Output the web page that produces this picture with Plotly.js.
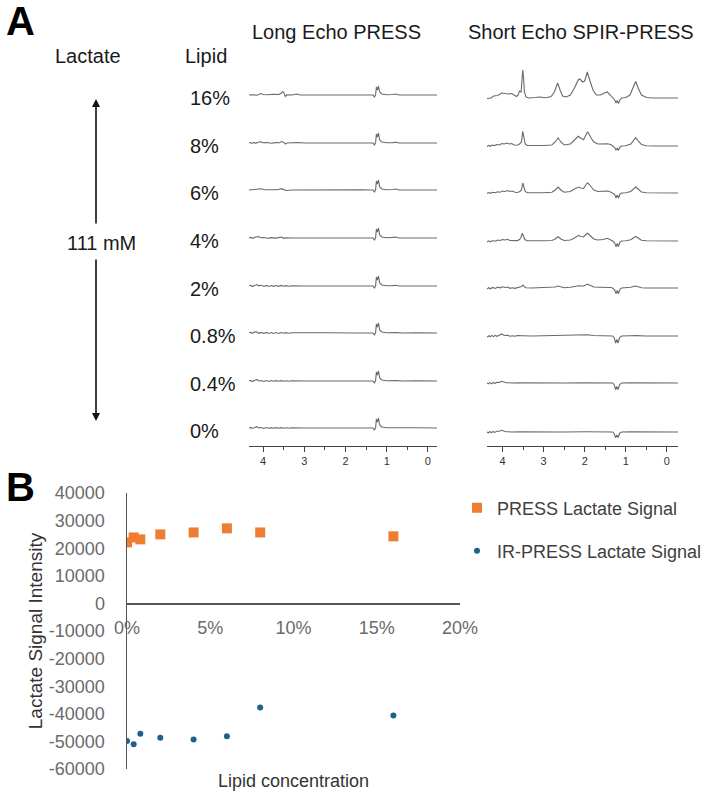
<!DOCTYPE html>
<html>
<head>
<meta charset="utf-8">
<script src="https://cdn.plot.ly/plotly-3.0.1.min.js"></script>
<style>html,body{margin:0;padding:0;background:#fff;}#chart{width:709px;height:796px;}</style>
</head>
<body>
<div id="chart"></div>
<script>
// ---------------- DATA ----------------
// Panel A: lipid concentrations (row labels, top to bottom)
const lipidLabels = ['16%', '8%', '6%', '4%', '2%', '0.8%', '0.4%', '0%'];
const ppmTicks = [4, 3, 2, 1, 0];

// Long Echo PRESS spectra: [ppm, intensity] pairs
const long16 = [[4.34,0],[4.25,0.3],[4.15,-0.2],[4.05,1.5],[4.0,0.5],[3.9,0.2],[3.75,0.8],[3.62,0.5],[3.55,2],[3.52,3.5],[3.49,2],[3.46,-1.5],[3.42,0.2],[3.3,0],[3.18,1],[3.1,0],[2.5,0],[2.0,0.2],[1.6,0],[1.4,0],[1.33,0],[1.30,-2],[1.27,0],[1.25,8],[1.225,5],[1.20,9],[1.17,3],[1.12,1],[1.0,0.3],[0.85,0.5],[0.78,1],[0.7,0],[0.4,0.3],[0.2,0],[-0.22,0]];
const long8 = [[4.34,0],[4.3,0.5],[4.26,-0.4],[4.22,0.7],[4.18,-0.3],[4.12,0.8],[4.05,1.2],[4.0,0.3],[3.9,0.5],[3.8,-0.2],[3.7,0.4],[3.6,0.2],[3.55,1.5],[3.5,0.8],[3.46,-1],[3.42,0],[3.3,0.2],[3.15,0.5],[3.0,0],[2.5,0.2],[2.0,0],[1.4,0],[1.33,0],[1.30,-2],[1.27,0],[1.25,9],[1.225,6],[1.20,10],[1.17,3],[1.12,1],[1.0,0.3],[0.85,0.4],[0.78,0.8],[0.7,0],[0.3,0.2],[-0.22,0]];
const long6 = [[4.34,0],[4.2,0.3],[4.1,0.6],[4.05,1.2],[3.95,0.3],[3.8,0.2],[3.65,0.3],[3.55,1.3],[3.48,0],[3.45,-0.5],[3.3,0],[2.8,0.2],[2.2,0],[1.6,0.2],[1.4,0],[1.33,0],[1.30,-2],[1.27,0],[1.25,9],[1.225,6],[1.20,10],[1.17,3],[1.12,1],[1.0,0.3],[0.85,0.5],[0.78,1],[0.7,0],[0.3,0.2],[-0.22,0]];
const long4 = [[4.34,0],[4.3,0.6],[4.25,-0.3],[4.2,0.8],[4.12,1.5],[4.06,0.2],[3.98,0.5],[3.9,-0.2],[3.8,0.4],[3.7,-0.1],[3.62,0.4],[3.55,1],[3.5,-0.3],[3.45,0.3],[3.3,0],[2.6,0.2],[2.0,0],[1.4,0],[1.33,0],[1.30,-2],[1.27,0],[1.25,9],[1.225,6],[1.20,10],[1.17,3],[1.12,1],[1.0,0.3],[0.85,0.6],[0.78,1],[0.7,0],[0.3,0.2],[-0.22,0]];
const long2 = [[4.34,0],[4.3,0.7],[4.26,-0.5],[4.2,0.9],[4.15,1.5],[4.1,0.2],[4.04,0.7],[3.98,-0.4],[3.92,0.6],[3.86,-0.4],[3.8,0.5],[3.74,-0.3],[3.68,0.5],[3.62,-0.3],[3.56,0.6],[3.5,-0.2],[3.44,0.4],[3.38,-0.2],[3.3,0.2],[3.0,0],[2.5,0.2],[2.0,0],[1.4,0],[1.33,0],[1.30,-2],[1.27,0],[1.25,9],[1.225,6],[1.20,10],[1.17,3],[1.12,1],[1.0,0.3],[0.85,0.4],[0.78,0.8],[0.7,0],[0.3,0.2],[-0.22,0]];
const long08 = [[4.34,0],[4.3,0.8],[4.26,-0.6],[4.22,0.9],[4.16,1.2],[4.1,-0.3],[4.04,0.6],[3.98,-0.5],[3.92,0.6],[3.86,-0.4],[3.8,0.5],[3.74,-0.4],[3.68,0.5],[3.62,-0.4],[3.56,0.5],[3.5,-0.3],[3.44,0.4],[3.38,-0.3],[3.3,0.2],[3.0,0],[2.4,0.2],[1.8,0],[1.4,0],[1.33,0],[1.30,-2],[1.27,0],[1.25,9],[1.225,6],[1.20,10],[1.17,3],[1.12,1],[1.0,0.3],[0.8,0.4],[0.6,0],[0.3,0.2],[-0.22,0]];
const long04 = [[4.34,0],[4.3,0.6],[4.26,-0.5],[4.2,0.8],[4.15,1.5],[4.1,0],[4.04,0.5],[3.98,-0.4],[3.92,0.5],[3.86,-0.4],[3.8,0.5],[3.74,-0.3],[3.68,0.4],[3.62,-0.3],[3.56,0.4],[3.5,-0.3],[3.44,0.3],[3.38,-0.2],[3.3,0.2],[3.0,0],[2.4,0.2],[1.8,0],[1.4,0],[1.33,0],[1.30,-2],[1.27,0],[1.25,9],[1.225,6],[1.20,10],[1.17,3],[1.12,1],[1.0,0.3],[0.8,0.4],[0.6,0],[0.3,0.2],[-0.22,0]];
const long0 = [[4.34,0],[4.3,0.6],[4.26,-0.4],[4.2,0.8],[4.15,1.3],[4.1,0],[4.04,0.5],[3.98,-0.4],[3.92,0.5],[3.86,-0.3],[3.8,0.4],[3.74,-0.3],[3.68,0.4],[3.62,-0.3],[3.56,0.4],[3.5,-0.2],[3.44,0.3],[3.38,-0.2],[3.3,0.2],[3.0,0],[2.4,0.2],[1.8,0],[1.4,0],[1.33,0],[1.30,-2],[1.27,0],[1.25,9],[1.225,6],[1.20,10],[1.17,3],[1.12,1],[1.0,0.3],[0.8,0.3],[0.6,0],[0.3,0.2],[-0.22,0]];

// Short Echo SPIR-PRESS spectra: [ppm, intensity] pairs
const short16 = [[4.38,-0.5],[4.28,0],[4.22,2],[4.12,2.5],[4.02,5],[3.94,4.5],[3.86,4],[3.78,4.5],[3.72,3],[3.66,1.5],[3.62,3],[3.59,7],[3.55,6],[3.53,14],[3.51,28],[3.49,20],[3.47,6],[3.43,1],[3.35,0],[3.2,0.5],[3.1,1],[2.95,0.3],[2.82,1.5],[2.74,6],[2.66,15],[2.6,8],[2.54,2],[2.45,1],[2.35,3],[2.25,10],[2.16,18],[2.12,19],[2.05,16],[2.0,17],[1.94,26],[1.88,18],[1.8,8],[1.72,3],[1.62,3],[1.52,5],[1.45,6],[1.38,3],[1.32,0],[1.27,-2],[1.24,-5],[1.21,-2.5],[1.18,-5.5],[1.14,-1.5],[1.1,0],[1.0,0.5],[0.9,3],[0.82,10],[0.76,16.5],[0.7,10],[0.62,3],[0.5,0.5],[0.35,0],[-0.27,0]];
const short8 = [[4.38,-0.5],[4.34,0.5],[4.3,-0.3],[4.26,1],[4.2,0.4],[4.14,1.5],[4.08,1],[4.02,2.5],[3.96,2],[3.9,3],[3.84,2],[3.78,2.5],[3.72,1],[3.66,0.8],[3.6,1.5],[3.57,3],[3.54,4],[3.51,14.7],[3.48,8],[3.45,2],[3.4,0.5],[3.2,0.3],[3.0,0.5],[2.8,1],[2.72,4],[2.65,8],[2.58,4],[2.5,1],[2.35,2],[2.25,6],[2.16,9.7],[2.1,8],[2.03,6.3],[1.96,12],[1.93,14.3],[1.86,9],[1.78,4],[1.68,2],[1.55,2],[1.45,2.3],[1.37,1.5],[1.32,0],[1.27,-1.5],[1.24,-4.3],[1.21,-2],[1.18,-4.3],[1.14,-1],[1.1,0],[1.0,0.3],[0.88,2],[0.8,6],[0.76,8.3],[0.7,5],[0.62,1.5],[0.5,0.3],[0.3,0],[-0.27,0]];
const short6 = [[4.38,-0.5],[4.34,0.4],[4.3,-0.3],[4.24,0.8],[4.18,0.3],[4.12,1.2],[4.06,0.8],[4.0,2],[3.94,1.5],[3.88,2.5],[3.82,1.5],[3.76,2],[3.7,0.8],[3.64,0.5],[3.58,1.5],[3.54,3],[3.51,10],[3.48,6],[3.45,1.5],[3.4,0.3],[3.2,0.2],[3.0,0.3],[2.8,0.8],[2.72,3],[2.65,6],[2.58,3],[2.5,0.8],[2.35,1.5],[2.25,4],[2.15,6],[2.1,5],[2.03,4.5],[1.96,9],[1.93,10.3],[1.86,7],[1.78,3],[1.68,1.5],[1.55,1.5],[1.45,2],[1.37,1],[1.32,0],[1.27,-1.5],[1.24,-5],[1.21,-2],[1.18,-5],[1.14,-1],[1.1,0],[1.0,0.3],[0.88,1.5],[0.8,4.5],[0.76,6],[0.7,4],[0.62,1],[0.5,0.2],[0.3,0],[-0.27,0]];
const short4 = [[4.38,-1],[4.34,0.2],[4.3,-0.8],[4.24,0.5],[4.18,-0.2],[4.12,1],[4.06,0.5],[4.0,1.5],[3.94,1],[3.88,1.7],[3.82,0.5],[3.76,0.3],[3.7,0.6],[3.64,0.4],[3.59,1.5],[3.56,3],[3.52,7.7],[3.49,5],[3.46,1.5],[3.4,0.2],[3.2,0],[3.0,0.2],[2.8,0.5],[2.72,2],[2.65,4.3],[2.58,2],[2.5,0.5],[2.35,1],[2.25,3],[2.15,5.7],[2.1,4.5],[2.03,4],[1.96,7],[1.93,7.7],[1.86,5],[1.78,2],[1.68,1],[1.55,1.5],[1.45,2.7],[1.37,1.5],[1.32,0],[1.27,-2],[1.24,-5.7],[1.21,-2.5],[1.18,-5.5],[1.14,-1],[1.1,0],[1.0,0.2],[0.88,1.2],[0.8,3.5],[0.76,4.7],[0.7,3],[0.62,0.8],[0.5,0.2],[0.3,0],[-0.27,0]];
const short2 = [[4.38,-1],[4.34,0.3],[4.3,-0.8],[4.24,0.6],[4.18,-0.5],[4.12,0.8],[4.06,0.2],[4.0,1.2],[3.94,0.5],[3.88,1],[3.82,-0.3],[3.76,0.3],[3.7,-0.4],[3.64,0.2],[3.58,0.5],[3.54,1.5],[3.51,3],[3.48,1.5],[3.44,0.3],[3.3,0],[3.0,0.2],[2.8,0.3],[2.72,1],[2.65,2],[2.58,1],[2.5,0.3],[2.35,0.8],[2.25,1.5],[2.15,2.3],[2.08,2],[2.02,2],[1.96,3.5],[1.93,3.7],[1.86,2.5],[1.78,1],[1.65,0.8],[1.5,1],[1.45,1],[1.37,0.5],[1.32,0],[1.27,-2],[1.24,-5.7],[1.21,-2.5],[1.18,-5.5],[1.14,-1],[1.1,0],[1.0,0.2],[0.88,0.8],[0.8,1.7],[0.76,2],[0.7,1.2],[0.62,0.3],[0.5,0],[-0.27,0]];
const short08 = [[4.38,0],[4.36,-1],[4.33,0.5],[4.3,-0.8],[4.26,0.6],[4.22,-0.6],[4.18,0.7],[4.14,-0.3],[4.08,0.8],[4.02,2],[3.98,1],[3.94,0.5],[3.88,0.8],[3.82,-0.2],[3.76,0.3],[3.7,-0.3],[3.64,0.5],[3.58,0.2],[3.5,0.3],[3.3,0],[3.0,0.2],[2.65,0.5],[2.4,0.3],[2.15,0.6],[1.93,1.3],[1.8,0.5],[1.6,0.3],[1.4,0.2],[1.32,0],[1.28,-2],[1.25,-7],[1.22,-3.5],[1.19,-7],[1.15,-1.5],[1.1,0],[0.9,0.2],[0.76,0.4],[0.5,0],[-0.27,0]];
const short04 = [[4.38,0],[4.35,-0.8],[4.31,0.4],[4.27,-0.7],[4.23,0.6],[4.19,-0.5],[4.14,0.8],[4.08,0.6],[4.02,1.7],[3.97,1],[3.92,0.2],[3.86,0.3],[3.78,0],[3.6,0.2],[3.3,0],[3.0,0.2],[2.5,0],[2.0,0.3],[1.6,0],[1.4,0.2],[1.32,0],[1.28,-2],[1.25,-6.7],[1.22,-3.5],[1.19,-6.5],[1.15,-1.5],[1.1,0],[0.9,0.2],[0.5,0],[-0.27,0]];
const short0 = [[4.38,0],[4.35,-0.8],[4.31,0.3],[4.27,-0.6],[4.23,0.5],[4.19,-0.4],[4.14,0.7],[4.08,0.7],[4.02,1.7],[3.97,0.8],[3.92,0.2],[3.86,0.3],[3.78,0],[3.6,0.2],[3.3,0],[3.0,0.2],[2.5,0],[2.0,0.2],[1.6,0],[1.4,0.2],[1.32,0],[1.28,-2],[1.25,-5.7],[1.22,-3],[1.19,-5.5],[1.15,-1.2],[1.1,0],[0.9,0.2],[0.5,0],[-0.27,0]];

const longSpectra = [long16, long8, long6, long4, long2, long08, long04, long0];
const shortSpectra = [short16, short8, short6, short4, short2, short08, short04, short0];

// Panel B: lactate signal vs lipid concentration
const lipidConc = [0, 0.004, 0.008, 0.02, 0.04, 0.06, 0.08, 0.16];
const pressSignal = [22100, 23900, 23200, 25000, 25700, 27200, 25700, 24300];
const irPressSignal = [-49900, -51000, -47200, -48700, -49300, -48100, -37700, -40600];
const xTickVals = [0, 0.05, 0.10, 0.15, 0.20];
const xTickText = ['0%', '5%', '10%', '15%', '20%'];
const yTickVals = [40000, 30000, 20000, 10000, 0, -10000, -20000, -30000, -40000, -50000, -60000];
const yTickText = ['40000', '30000', '20000', '10000', '0', '-10000', '-20000', '-30000', '-40000', '-50000', '-60000'];

// ---------------- LAYOUT HELPERS ----------------
const W = 709, H = 796;
const fx = p => p / W;
const fy = p => (H - p) / H;
const FONT = 'Liberation Sans, Arial, Helvetica, sans-serif';
const longRowPx = [95, 143, 190, 238, 286, 333, 381, 428];
const shortRowPx = [98, 146, 193, 241, 288, 336, 383, 432];
const rowRange = [-8, 38];

const traces = [];
const layout = {
  width: W, height: H,
  margin: {l: 0, r: 0, t: 0, b: 0},
  paper_bgcolor: '#ffffff', plot_bgcolor: 'rgba(0,0,0,0)',
  font: {family: FONT, color: '#222'},
  showlegend: true,
  annotations: [],
  shapes: []
};

const specAxis = (dom, rng) => ({
  domain: dom, range: rng, anchor: 'free', position: fy(446),
  showline: true, linecolor: '#444', linewidth: 1,
  ticks: 'outside', ticklen: 5, tickcolor: '#444', tickwidth: 1,
  tickmode: 'linear', tick0: 0, dtick: 1,
  minor: {tick0: 0, dtick: 0.5, ticks: 'outside', ticklen: 3, tickcolor: '#444', showgrid: false},
  tickfont: {size: 11, color: '#333', family: FONT},
  showgrid: false, zeroline: false, fixedrange: true
});
layout.xaxis2 = specAxis([fx(249), fx(437)], [4.34, -0.22]);
layout.xaxis3 = specAxis([fx(487), fx(678)], [4.38, -0.27]);

function addRows(spectra, rowPx, xName, yStart) {
  spectra.forEach((s, i) => {
    const yn = yStart + i;
    const r = rowPx[i];
    layout['yaxis' + yn] = {
      domain: [fy(r - rowRange[0]), fy(r - rowRange[1])],
      range: rowRange, anchor: xName, visible: false, fixedrange: true
    };
    traces.push({
      type: 'scatter', mode: 'lines',
      x: s.map(p => p[0]), y: s.map(p => p[1]),
      xaxis: xName, yaxis: 'y' + yn,
      line: {color: '#6a6a6a', width: 1.1},
      showlegend: false, hoverinfo: 'skip'
    });
  });
}
addRows(longSpectra, longRowPx, 'x2', 2);
addRows(shortSpectra, shortRowPx, 'x3', 10);

// row labels anchored to each long-echo row's baseline
lipidLabels.forEach((lab, i) => {
  layout.annotations.push({
    text: lab, xref: 'paper', yref: 'y' + (2 + i), x: fx(188), y: 0,
    xanchor: 'left', yanchor: 'middle', yshift: -3, showarrow: false,
    font: {size: 20, color: '#1a1a1a', family: FONT}
  });
});

// Panel B scatter
traces.push({
  type: 'scatter', mode: 'markers', name: 'PRESS Lactate Signal',
  x: lipidConc, y: pressSignal, xaxis: 'x', yaxis: 'y',
  marker: {symbol: 'square', size: 10, color: '#ed7d31'},
  legend: 'legend'
});
traces.push({
  type: 'scatter', mode: 'markers', name: 'IR-PRESS Lactate Signal',
  x: lipidConc, y: irPressSignal, xaxis: 'x', yaxis: 'y',
  marker: {symbol: 'circle', size: 6, color: '#1b6389'},
  legend: 'legend2'
});

layout.xaxis = {
  domain: [fx(127), fx(460)], range: [0, 0.2], anchor: 'free', position: fy(603),
  tickmode: 'array', tickvals: xTickVals, ticktext: xTickText,
  ticks: '', ticklabelstandoff: 8,
  showline: true, linecolor: '#555', linewidth: 1.5,
  showgrid: false, zeroline: false, fixedrange: true,
  tickfont: {size: 18, color: '#6b6b6b', family: FONT}
};
layout.yaxis = {
  domain: [fy(769), fy(493)], range: [-60000, 40000], anchor: 'x',
  tickmode: 'array', tickvals: yTickVals, ticktext: yTickText,
  ticks: '', ticklabelstandoff: 17,
  showline: true, linecolor: '#555', linewidth: 1.5,
  showgrid: false, zeroline: false, fixedrange: true,
  tickfont: {size: 18, color: '#6b6b6b', family: FONT},
  title: {text: 'Lactate Signal Intensity', font: {size: 19, color: '#333', family: FONT}, standoff: 1}
};

const legendBase = {
  xref: 'paper', yref: 'paper', x: fx(457), xanchor: 'left', yanchor: 'middle',
  bgcolor: 'rgba(0,0,0,0)', borderwidth: 0,
  font: {size: 18, color: '#404040', family: FONT}
};
layout.legend = Object.assign({}, legendBase, {y: fy(508)});
layout.legend2 = Object.assign({}, legendBase, {y: fy(551)});

// Text labels of the figure
const textAnn = (text, x, y, size, opts) => Object.assign({
  text: text, xref: 'paper', yref: 'paper', x: fx(x), y: fy(y),
  xanchor: 'center', yanchor: 'middle', showarrow: false,
  font: {size: size, color: '#1a1a1a', family: FONT}
}, opts || {});

layout.annotations.push(
  textAnn('<b>A</b>', 20, 21, 40, {font: {size: 40, color: '#000', family: FONT}}),
  textAnn('<b>B</b>', 20, 487, 40, {font: {size: 40, color: '#000', family: FONT}}),
  textAnn('Long Echo PRESS', 336, 32, 20),
  textAnn('Short Echo SPIR-PRESS', 581, 32, 20),
  textAnn('Lactate', 88, 56, 20),
  textAnn('Lipid', 206, 56, 20),
  textAnn('111 mM', 101, 243, 20),
  textAnn('Lipid concentration', 293, 781, 18, {font: {size: 18, color: '#333', family: FONT}}),
  // double-headed arrow (two halves around the "111 mM" label)
  {text: '', xref: 'paper', yref: 'paper', x: fx(96), y: fy(99), ax: 0, ay: 126,
   showarrow: true, arrowhead: 2, arrowsize: 1, arrowwidth: 1.6, arrowcolor: '#111'},
  {text: '', xref: 'paper', yref: 'paper', x: fx(96), y: fy(421), ax: 0, ay: -163,
   showarrow: true, arrowhead: 2, arrowsize: 1, arrowwidth: 1.6, arrowcolor: '#111'}
);

Plotly.newPlot('chart', traces, layout, {staticPlot: true, displayModeBar: false});
</script>
</body>
</html>
